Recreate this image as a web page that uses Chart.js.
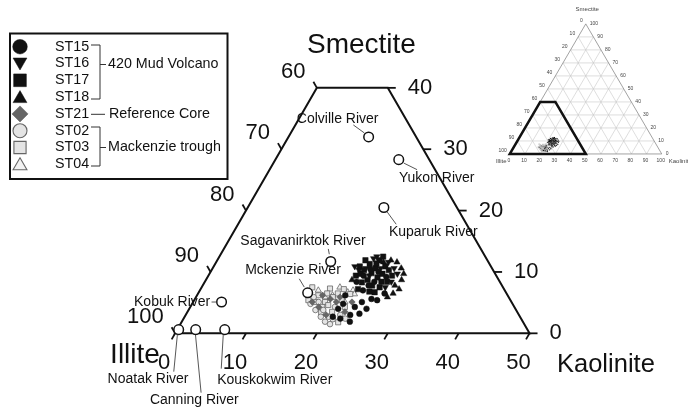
<!DOCTYPE html>
<html>
<head>
<meta charset="utf-8">
<script src="https://cdn.jsdelivr.net/npm/chart.js@4.4.1/dist/chart.umd.min.js"></script>
<style>
  html, body { margin: 0; padding: 0; background: #fff; }
  #wrap { position: relative; width: 688px; height: 414px; overflow: hidden; background: #fff; }
  #mainBox { position: absolute; left: 0; top: 0; width: 688px; height: 414px; }
  #insetBox { position: absolute; left: 480px; top: 0; width: 208px; height: 175px; }
</style>
</head>
<body>
<div id="wrap">
  <div id="mainBox"><canvas id="mainChart"></canvas></div>
  <div id="insetBox"><canvas id="insetChart"></canvas></div>
</div>
<script>
// Clay-fraction composition (%), each sample as [kaolinite, smectite]; illite = 100 - kaolinite - smectite
const ST15 = [[21.9,9.4],[22.3,10.5],[23.7,10.0],[25.2,9.2],[23.4,7.8],[21.4,8.4],[23.9,8.4],[23.0,7.0],[24.9,5.6],[23.8,5.1],[25.8,5.4],[24.4,3.2],[23.2,3.0],[23.7,1.9],[21.3,4.8],[21.0,4.0],[23.2,4.3],[25.0,4.0],[20.9,6.2],[26.3,6.5],[20.9,2.7],[22.1,2.4]];
const ST16 = [[19.9,10.9],[21.9,12.2],[24.3,11.6],[25.6,10.6],[21.6,10.6],[23.7,10.6],[20.8,10.3],[26.3,8.4],[22.7,9.4],[25.9,7.5],[26.5,9.7],[22.2,12.5]];
const ST17 = [[20.6,10.9],[21.5,10.3],[21.8,11.3],[22.8,9.8],[23.0,10.6],[22.9,11.9],[24.0,9.1],[24.4,9.7],[24.2,10.9],[22.8,8.7],[23.9,7.8],[22.2,8.3],[22.2,7.2],[25.1,7.5],[25.7,8.4],[20.9,11.9],[25.0,10.3],[24.8,6.7],[20.8,9.4],[23.1,12.5],[25.9,9.4],[24.0,6.8],[21.3,9.7],[22.7,11.4],[24.9,8.4]];
const ST18 = [[26.6,10.6],[27.6,8.7],[25.5,11.6],[27.1,7.8],[28.0,7.2],[24.5,11.9],[27.4,9.7],[27.5,6.5],[27.0,5.9],[20.6,8.7],[23.6,11.6]];
const ST21 = [[17.7,6.2],[20.2,5.1],[18.1,4.3],[22.2,3.5],[19.1,5.6],[22.4,5.1],[19.8,3.0],[20.3,5.9],[16.8,5.1]];
const ST02 = [[16.7,4.8],[17.7,5.1],[19.0,3.8],[20.3,2.7],[21.1,2.3],[20.2,1.9],[17.9,3.8],[21.8,3.0],[20.4,4.3],[19.2,2.7],[22.8,2.4],[21.1,1.5],[16.6,5.9]];
const ST03 = [[15.6,7.5],[18.2,7.3],[19.7,6.5],[17.1,6.2],[18.6,5.1],[20.2,7.2],[21.5,6.4],[19.3,4.6],[20.8,5.4],[17.3,5.1],[20.4,3.5],[18.6,4.3],[22.1,1.8],[21.8,4.3],[16.1,5.4],[18.2,6.5],[19.3,5.9],[18.9,3.4]];
const ST04 = [[19.1,6.2],[21.0,6.7],[21.6,7.0],[22.1,6.4],[19.5,7.5],[18.2,5.9],[21.4,5.1],[16.7,7.0]];

// River end-members
const riverNames = ['Colville River','Yukon River','Kuparuk River','Sagavanirktok River','Mckenzie River','Kobuk River','Noatak River','Canning River','Kouskokwim River'];
const riverKaolinite = [11.3, 17.4, 19.2, 16.1, 15.4, 4.0, 0.2, 2.6, 6.7];
const riverSmectite  = [32.0, 28.3, 20.5, 11.7, 6.6, 5.1, 0.6, 0.6, 0.6];

// Axis ticks of the zoomed diagram
const kaoliniteTicks = [0, 10, 20, 30, 40, 50];
const illiteTicks = [100, 90, 80, 70, 60];
const smectiteTicks = [0, 10, 20, 30, 40];
// Axis ticks of the full overview triangle
const overviewTicks = [0, 10, 20, 30, 40, 50, 60, 70, 80, 90, 100];

// Legend groups
const legendEntries = ['ST15','ST16','ST17','ST18','ST21','ST02','ST03','ST04'];
const groupNames = ['420 Mud Volcano', 'Reference Core', 'Mackenzie trough'];

const FONT = "'Liberation Sans', Arial, Helvetica, sans-serif";

// Ternary (kaolinite, smectite) -> cartesian point: x along the base, y = smectite
function tern(k, s) { return { x: k + s / 2, y: s }; }
function toPoints(arr) { return arr.map(p => tern(p[0], p[1])); }

const seriesStyle = {
  ST15: { data: ST15, pointStyle: 'circle',   rotation: 0,   r: 2.9, fill: '#111', line: '#111', bw: 0.5, legendR: 7.3, dy: 0 },
  ST16: { data: ST16, pointStyle: 'triangle', rotation: 180, r: 3.6, fill: '#111', line: '#111', bw: 0.5, legendR: 8,   dy: -1.5 },
  ST17: { data: ST17, pointStyle: 'rect',     rotation: 0,   r: 3.8, fill: '#111', line: '#111', bw: 0.5, legendR: 9,   dy: 0 },
  ST18: { data: ST18, pointStyle: 'triangle', rotation: 0,   r: 3.6, fill: '#111', line: '#111', bw: 0.5, legendR: 8,   dy: 1.5 },
  ST21: { data: ST21, pointStyle: 'rectRot',  rotation: 0,   r: 3.2, fill: '#666', line: '#555', bw: 0.6, legendR: 8,   dy: 0 },
  ST02: { data: ST02, pointStyle: 'circle',   rotation: 0,   r: 2.8, fill: '#e4e4e4', line: '#666', bw: 0.8, legendR: 7, dy: 0 },
  ST03: { data: ST03, pointStyle: 'rect',     rotation: 0,   r: 3.6, fill: '#e4e4e4', line: '#666', bw: 0.8, legendR: 8.6, dy: 0 },
  ST04: { data: ST04, pointStyle: 'triangle', rotation: 0,   r: 3.6, fill: '#f2f2f2', line: '#666', bw: 0.8, legendR: 8, dy: 1.5 }
};

// Text placement for the river annotations, relative to each river marker (px)
const riverLabelLayout = [
  { dx: -31,   dy: -18,   align: 'center', leader: [-15.3, -12, -4.3, -4] },
  { dx: 38,    dy: 18.4,  align: 'center', leader: [5, 3.4, 18.3, 10] },
  { dx: 49.4,  dy: 24.4,  align: 'center', leader: [3.3, 4.4, 12.3, 16.7] },
  { dx: -27.7, dy: -20,   align: 'center', leader: [-2.4, -12.6, -1.4, -7.3] },
  { dx: -14.7, dy: -22.4, align: 'center', leader: [-8.4, -14, -3.4, -5.7] },
  { dx: -11.3, dy: 0,     align: 'right',  leader: [-10, 0, -4.8, 0] },
  { dx: -30.6, dy: 49.7,  align: 'center', leader: [-1.3, 5, -4.9, 42] },
  { dx: -1.4,  dy: 70.3,  align: 'center', leader: [-0.2, 5.3, 5.4, 63] },
  { dx: 50,    dy: 50.3,  align: 'center', leader: [-1.5, 5.3, -3.5, 39] }
];

const whiteBg = {
  id: 'whiteBg',
  beforeDraw(chart) {
    const c = chart.ctx;
    c.save(); c.fillStyle = '#fff'; c.fillRect(0, 0, chart.width, chart.height); c.restore();
  }
};

function pix(chart, k, s) {
  const p = tern(k, s);
  return { x: chart.scales.x.getPixelForValue(p.x), y: chart.scales.y.getPixelForValue(p.y) };
}
function line(c, x1, y1, x2, y2) { c.beginPath(); c.moveTo(x1, y1); c.lineTo(x2, y2); c.stroke(); }
function tickAt(chart, c, k, s, dk, ds, len) {
  const a = pix(chart, k, s), b = pix(chart, k + dk, s + ds);
  const dx = b.x - a.x, dy = b.y - a.y, n = Math.hypot(dx, dy);
  line(c, a.x, a.y, a.x + dx / n * len, a.y + dy / n * len);
}

// Frame, ticks and tick labels of the zoomed ternary window
const ternaryFrame = {
  id: 'ternaryFrame',
  beforeDatasetsDraw(chart) {
    const c = chart.ctx;
    const kMax = kaoliniteTicks[kaoliniteTicks.length - 1];
    const sMax = smectiteTicks[smectiteTicks.length - 1];
    const corners = [[0, 0], [kMax, 0], [kMax - sMax, sMax], [0, sMax]].map(p => pix(chart, p[0], p[1]));
    c.save();
    c.strokeStyle = '#111';
    c.lineWidth = 2;
    c.lineJoin = 'miter';
    c.beginPath();
    corners.forEach((p, i) => i ? c.lineTo(p.x, p.y) : c.moveTo(p.x, p.y));
    c.closePath();
    c.stroke();

    c.lineWidth = 1.8;
    c.fillStyle = '#111';
    c.font = '22px ' + FONT;
    c.textBaseline = 'middle';
    // kaolinite (base)
    c.textAlign = 'center';
    kaoliniteTicks.forEach(k => {
      tickAt(chart, c, k, 0, 0, -1, 7);
      const p = pix(chart, k, 0);
      c.fillText(String(k), p.x - 11, p.y + 30);
    });
    // illite (left edge)
    c.textAlign = 'right';
    illiteTicks.forEach(i => {
      const s = 100 - i;
      tickAt(chart, c, 0, s, -1, 1, 7);
      const p = pix(chart, 0, s);
      c.fillText(String(i), p.x - 11.5, p.y - 16);
    });
    // smectite (right edge)
    c.textAlign = 'left';
    smectiteTicks.forEach(s => {
      const k = kMax - s;
      tickAt(chart, c, k, s, 1, 0, 8);
      const p = pix(chart, k, s);
      c.fillText(String(s), p.x + 20, p.y);
    });

    // axis titles
    c.font = '28px ' + FONT;
    c.textAlign = 'left';
    c.fillText('Smectite', 307, 45);
    c.font = '25.5px ' + FONT;
    c.fillText('Kaolinite', 557, 365);
    c.font = '28px ' + FONT;
    c.textAlign = 'center';
    c.fillText('Illite', 135, 355);
    c.restore();
  },
  afterDatasetsDraw(chart) {
    const c = chart.ctx;
    c.save();
    // river annotations
    c.font = '14px ' + FONT;
    c.fillStyle = '#111';
    c.textBaseline = 'middle';
    riverNames.forEach((name, i) => {
      const p = pix(chart, riverKaolinite[i], riverSmectite[i]);
      const L = riverLabelLayout[i];
      c.strokeStyle = '#444';
      c.lineWidth = 0.9;
      line(c, p.x + L.leader[0], p.y + L.leader[1], p.x + L.leader[2], p.y + L.leader[3]);
      c.textAlign = L.align;
      c.fillText(name, p.x + L.dx, p.y + L.dy);
    });

    // legend
    c.strokeStyle = '#111';
    c.lineWidth = 2;
    c.strokeRect(10, 33.5, 217.5, 145.5);
    const rowY = i => 46.7 + i * 16.8;
    c.font = '14.3px ' + FONT;
    c.textAlign = 'left';
    legendEntries.forEach((key, i) => {
      const st = seriesStyle[key];
      c.fillStyle = st.fill;
      c.strokeStyle = st.line;
      c.lineWidth = st.bw > 0.6 ? 1.1 : 0.5;
      Chart.helpers.drawPoint(c, { pointStyle: st.pointStyle, rotation: st.rotation, radius: st.legendR, borderWidth: c.lineWidth }, 20, rowY(i) + st.dy);
      c.fillStyle = '#111';
      c.fillText(key, 55, rowY(i));
    });
    c.strokeStyle = '#333';
    c.lineWidth = 1;
    // 420 Mud Volcano bracket
    line(c, 91, 45, 100, 45); line(c, 100, 45, 100, 99); line(c, 91, 99, 100, 99); line(c, 100, 64.5, 106, 64.5);
    // Reference Core
    line(c, 91, 114.3, 105, 114.3);
    // Mackenzie trough bracket
    line(c, 91, 127, 100, 127); line(c, 100, 127, 100, 166); line(c, 91, 166, 100, 166); line(c, 100, 147.5, 106, 147.5);
    c.fillStyle = '#111';
    c.fillText(groupNames[0], 108, 64.5);
    c.fillText(groupNames[1], 109, 114.3);
    c.fillText(groupNames[2], 108, 147.5);
    c.restore();
  }
};

function sampleDatasets(scale) {
  return Object.keys(seriesStyle).map(key => {
    const st = seriesStyle[key];
    return {
      label: key,
      data: toPoints(st.data),
      pointStyle: st.pointStyle,
      pointRotation: st.rotation,
      pointRadius: st.r * scale,
      pointBackgroundColor: st.fill,
      pointBorderColor: st.line,
      pointBorderWidth: st.bw * scale,
      showLine: false
    };
  });
}

const riverDataset = {
  label: 'Rivers',
  data: riverKaolinite.map((k, i) => tern(k, riverSmectite[i])),
  pointStyle: 'circle',
  pointRadius: 4.8,
  pointBackgroundColor: '#fff',
  pointBorderColor: '#111',
  pointBorderWidth: 1.5,
  showLine: false
};

// Pixel window of the zoomed diagram: cartesian x = kaolinite + smectite/2, y = smectite
new Chart(document.getElementById('mainChart'), {
  type: 'scatter',
  data: { datasets: [riverDataset].concat(sampleDatasets(1)) },
  options: {
    responsive: true,
    maintainAspectRatio: false,
    animation: false,
    devicePixelRatio: 1,
    events: [],
    layout: { padding: 0 },
    plugins: { legend: { display: false }, tooltip: { enabled: false } },
    scales: {
      x: { type: 'linear', display: false, min: -23.82, max: 71.47 },
      y: { type: 'linear', display: false, min: -12.12, max: 53.29 }
    }
  },
  plugins: [whiteBg, ternaryFrame]
});

// Overview triangle with the zoom window outlined
const overviewFrame = {
  id: 'overviewFrame',
  beforeDatasetsDraw(chart) {
    const c = chart.ctx;
    const P = (k, s) => pix(chart, k, s);
    c.save();
    c.strokeStyle = '#c8c8c8';
    c.lineWidth = 0.6;
    overviewTicks.slice(1, -1).forEach(v => {
      let a = P(v, 0), b = P(v, 100 - v); line(c, a.x, a.y, b.x, b.y);        // constant kaolinite
      a = P(0, v); b = P(100 - v, v); line(c, a.x, a.y, b.x, b.y);             // constant smectite
      a = P(100 - v, 0); b = P(0, 100 - v); line(c, a.x, a.y, b.x, b.y);       // constant illite
    });
    const A = P(0, 0), B = P(100, 0), C = P(0, 100);
    c.strokeStyle = '#8a8a8a';
    c.lineWidth = 0.8;
    c.beginPath(); c.moveTo(A.x, A.y); c.lineTo(B.x, B.y); c.lineTo(C.x, C.y); c.closePath(); c.stroke();

    c.fillStyle = '#444';
    c.font = '5px ' + FONT;
    c.textBaseline = 'middle';
    c.textAlign = 'center';
    overviewTicks.forEach(v => { const p = P(v, 0); c.fillText(String(v), p.x - 1, p.y + 7); });
    c.textAlign = 'right';
    overviewTicks.forEach(v => { const p = P(0, 100 - v); c.fillText(String(v), p.x - 3, p.y - 3); });
    c.textAlign = 'left';
    overviewTicks.forEach(v => { const p = P(100 - v, v); c.fillText(String(v), p.x + 4, p.y); });

    c.font = '6px ' + FONT;
    c.textAlign = 'center';
    c.fillText('Smectite', C.x + 1.5, 9.3);
    c.textAlign = 'right';
    c.fillText('Illite', A.x - 3.2, A.y + 7);
    c.textAlign = 'left';
    c.fillText('Kaolinite', B.x + 7, B.y + 7);

    const kMax = kaoliniteTicks[kaoliniteTicks.length - 1];
    const sMax = smectiteTicks[smectiteTicks.length - 1];
    const win = [[0, 0], [kMax, 0], [kMax - sMax, sMax], [0, sMax]].map(p => P(p[0], p[1]));
    c.strokeStyle = '#111';
    c.lineWidth = 2.6;
    c.lineJoin = 'miter';
    c.beginPath();
    win.forEach((p, i) => i ? c.lineTo(p.x, p.y) : c.moveTo(p.x, p.y));
    c.closePath();
    c.stroke();
    c.restore();
  }
};

new Chart(document.getElementById('insetChart'), {
  type: 'scatter',
  data: { datasets: sampleDatasets(0.22) },
  options: {
    responsive: true,
    maintainAspectRatio: false,
    animation: false,
    devicePixelRatio: 1,
    events: [],
    layout: { padding: 0 },
    plugins: { legend: { display: false }, tooltip: { enabled: false } },
    scales: {
      x: { type: 'linear', display: false, min: -16.87, max: 114.53 },
      y: { type: 'linear', display: false, min: -12.96, max: 115.15 }
    }
  },
  plugins: [overviewFrame]
});
</script>
</body>
</html>
